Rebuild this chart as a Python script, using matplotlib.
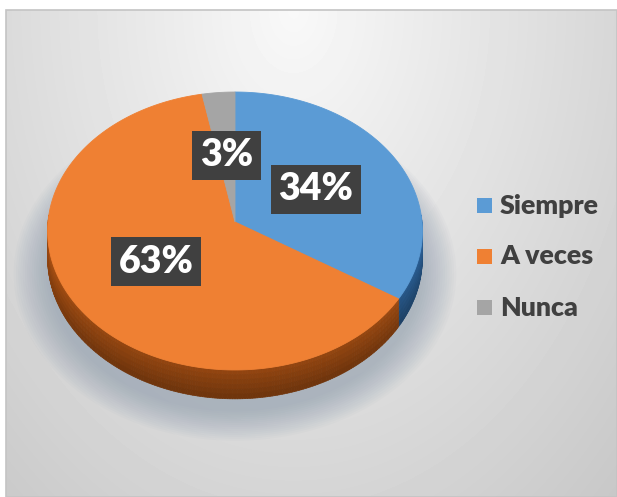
import numpy as np
import matplotlib
matplotlib.use("Agg")
import matplotlib.pyplot as plt
from matplotlib.patches import Polygon, Rectangle
from matplotlib.collections import PolyCollection
from matplotlib.colors import to_rgb

# ---- data ----
categories = ["Siempre", "A veces", "Nunca"]
values = [34, 63, 3]
colors = ["#5B9BD5", "#EF8033", "#A5A5A5"]
side_colors = ["#24507D", "#924510", "#6E6E6E"]

W, H = 617, 497
fig = plt.figure(figsize=(W / 100, H / 100), dpi=100)
ax = fig.add_axes([0, 0, 1, 1])
ax.axis("off")

# ---- chart area background (soft gray gradient) ----
fx0, fy0 = 6, 10
gw, gh = W - fx0, H - fy0
yy, xx = np.mgrid[0:gh, 0:gw]
dx = (xx - 0.47 * gw) / (0.53 * gw)
ty = yy / gh
shade = 0.975 - 0.14 * np.sqrt(0.9 * dx ** 2 + ty ** 2)
ax.imshow(shade, cmap="gray", vmin=0, vmax=1, extent=(fx0, W, H, fy0),
          aspect="auto", zorder=0, interpolation="bilinear")
ax.add_patch(Rectangle((fx0, fy0), gw, gh, fill=False, ec="#c4c4c4", lw=1.2, zorder=1))
ax.set_xlim(0, W)
ax.set_ylim(H, 0)

# ---- 3D pie geometry (tilted disk with mild perspective) ----
CX, CY = 235.0, 222.0
A, B, P = 187.0, 138.4, 0.0647
DEPTH = 27.0


def proj(theta, r=1.0, dz=0.0):
    u = r * np.sin(theta)
    v = -r * np.cos(theta)
    s = 1.0 / (1.0 - P * v)
    return CX + A * u * s, CY + B * v * s + dz * s


fracs = np.array(values, dtype=float) / np.sum(values)
bounds = np.concatenate([[0.0], np.cumsum(fracs)]) * 2 * np.pi

# soft drop shadow under the pie
for k in range(16):
    grow = 1.0 + 0.012 * k
    th = np.linspace(0, 2 * np.pi, 200)
    px, py = proj(th, grow, DEPTH + 8)
    ax.add_patch(Polygon(np.column_stack([px, py + 4]), closed=True,
                         fc="#7f90a6", ec="none", alpha=0.04, zorder=2))

# side walls (front half only)
lo_vis, hi_vis = np.pi / 2 - 0.05, 3 * np.pi / 2 + 0.05
quads, qcols = [], []
nb = 6
for i in range(len(values)):
    t0, t1 = max(bounds[i], lo_vis), min(bounds[i + 1], hi_vis)
    if t1 <= t0:
        continue
    base = np.array(to_rgb(side_colors[i]))
    ts = np.linspace(t0, t1, max(int((t1 - t0) * 80), 4))
    for a, b in zip(ts[:-1], ts[1:]):
        m = 0.5 * (a + b)
        horiz = 0.9 + 0.3 * (1 - abs(np.cos(m - np.pi))) ** 2  # lighter toward the rims
        for j in range(nb):
            z0, z1 = DEPTH * j / nb, DEPTH * (j + 1) / nb
            xa0, ya0 = proj(a, 1, z0)
            xb0, yb0 = proj(b, 1, z0)
            xb1, yb1 = proj(b, 1, z1)
            xa1, ya1 = proj(a, 1, z1)
            quads.append([(xa0, ya0), (xb0, yb0), (xb1, yb1), (xa1, ya1)])
            vert = 1.1 - 0.25 * j / (nb - 1)
            qcols.append(np.clip(base * horiz * vert, 0, 1))
ax.add_collection(PolyCollection(quads, facecolors=qcols, edgecolors=qcols,
                                 linewidths=0.5, zorder=3))

# top faces
for i in range(len(values)):
    th = np.linspace(bounds[i], bounds[i + 1], max(int((bounds[i + 1] - bounds[i]) * 60), 3))
    px, py = proj(th)
    pts = np.vstack([[proj(0, 0)], np.column_stack([px, py])])
    ax.add_patch(Polygon(pts, closed=True, fc=colors[i], ec=colors[i], lw=0.6, zorder=4))

# ---- percentage labels ----
for i, v in enumerate(values):
    mid = 0.5 * (bounds[i] + bounds[i + 1])
    lx, ly = proj(mid, 0.5)
    ax.text(lx, ly, f"{v}%", ha="center", va="center", color="white",
            fontsize=27, fontweight="heavy", family=["Lato", "DejaVu Sans"], zorder=6,
            bbox=dict(boxstyle="square,pad=0.2", fc="#404040", ec="none"))

# ---- legend ----
leg_x, leg_y0, leg_dy = 477, 205.5, 51
for i, name in enumerate(categories):
    y = leg_y0 + i * leg_dy
    ax.add_patch(Rectangle((leg_x, y - 7.5), 15, 15, fc=colors[i], ec="none", zorder=6))
    ax.text(leg_x + 23, y, name, ha="left", va="center", color="#404040",
            fontsize=19.3, fontweight="heavy", family=["Lato", "DejaVu Sans"], zorder=6)

fig.savefig("out.png", dpi=100, facecolor="white")
